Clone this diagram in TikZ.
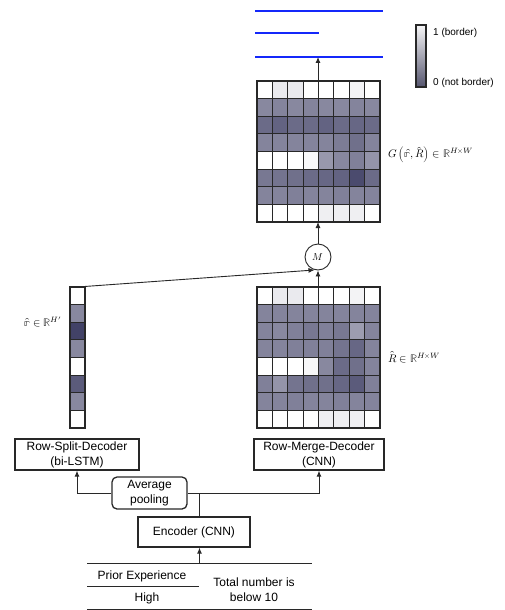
\documentclass[tikz,border=0pt]{standalone}
\usepackage{fontspec}
\usepackage{unicode-math}
\setmainfont{Liberation Sans}
\usetikzlibrary{arrows.meta}

\definecolor{cellbase}{RGB}{50,50,90}
\definecolor{linec}{RGB}{40,40,40}
\definecolor{barbot}{RGB}{85,85,110}
\definecolor{outblue}{RGB}{20,40,250}

\begin{document}
\begin{tikzpicture}[x=1pt, y=-1pt, >={Latex[length=6pt,width=5pt]},
    box/.style={draw=linec, line width=1.3pt, fill=white, inner sep=0pt, align=center, font=\fontsize{12}{15}\selectfont},
    cell/.style={draw=linec, line width=1.1pt},
    conn/.style={linec, line width=0.9pt},
    mathlbl/.style={inner sep=0pt, font=\fontsize{11}{13}\selectfont},
    barlbl/.style={inner sep=0pt, anchor=west, font=\fontsize{10}{12}\selectfont},
    tabtext/.style={inner sep=0pt, align=center, font=\fontsize{12}{15}\selectfont}]

    % Page frame
    \useasboundingbox (0,0) rectangle (504,610);

    % Output rows (blue)
    \draw[outblue, line width=1.5pt] (255,11) -- (383,11);
    \draw[outblue, line width=1.5pt] (255,33) -- (319,33);
    \draw[outblue, line width=1.5pt] (255,57) -- (383,57);
    \coordinate (out) at (318,57);

    % Colour bar
    \shade[top color=white!95!barbot, bottom color=barbot] (416,25) rectangle (426,87);
    \draw[linec, line width=1.2pt] (416,25) rectangle (426,87);
    \node[barlbl] (hi) at (433,33) {1 (border)};
    \node[barlbl] (lo) at (433,83) {0 (not border)};

    % G map (top grid)
    \foreach \rw/\vals in {1/{0,10,10,0,0,0,6,0}, 2/{58,60,58,60,58,58,60,58},
        3/{72,76,72,72,76,72,74,72}, 4/{60,60,60,60,60,64,70,60},
        5/{0,0,0,3,50,58,62,52}, 6/{66,68,70,72,74,76,88,72},
        7/{60,60,62,60,60,62,60,60}, 8/{0,0,0,0,8,8,8,0}} {
        \foreach \v [count=\cl] in \vals {
            \filldraw[cell, fill=cellbase!\v] (257+15.375*\cl-15.375, 81+17.625*\rw-17.625) rectangle ++(15.375,17.625);
        }
    }
    \coordinate (Gtop) at (318,81);
    \coordinate (Gbot) at (318,222);
    \node[mathlbl, anchor=west] (Glbl) at (388,155) {$G\left(\hat{\symbb{r}},\hat{R}\right)\in\symbb{R}^{H\times W}$};

    % R map (lower grid)
    \foreach \rw/\vals in {1/{0,10,10,0,0,0,6,0}, 2/{60,60,60,60,60,60,60,60},
        3/{60,58,62,66,62,66,48,60}, 4/{60,60,62,62,62,68,74,60},
        5/{0,0,0,4,58,72,70,60}, 6/{62,52,68,70,70,74,80,62},
        7/{60,60,62,60,60,62,60,60}, 8/{0,0,0,0,8,8,8,0}} {
        \foreach \v [count=\cl] in \vals {
            \filldraw[cell, fill=cellbase!\v] (257+15.375*\cl-15.375, 287+17.625*\rw-17.625) rectangle ++(15.375,17.625);
        }
    }
    \coordinate (Rtop) at (318,287);
    \node[mathlbl, anchor=west] (Rlbl) at (388,357) {$\hat{R}\in\symbb{R}^{H\times W}$};

    % r vector
    \foreach \v [count=\rw] in {0,58,92,58,0,80,58,0} {
        \filldraw[cell, fill=cellbase!\v] (70, 287+17.625*\rw-17.625) rectangle ++(15,17.625);
    }
    \coordinate (Vtop) at (77.5,287);
    \node[mathlbl, anchor=east] (rlbl) at (62,322) {$\hat{\symbb{r}}\in\symbb{R}^{H'}$};

    % Merge
    \node[circle, draw=linec, line width=0.9pt, fill=white, minimum size=26pt, inner sep=0pt, font=\fontsize{10}{12}\selectfont] (M) at (318,257) {$M$};

    % Decoders, pooling, encoder
    \node[box, minimum width=124pt, minimum height=31pt] (Split) at (77,454.5) {Row-Split-Decoder\\(bi-LSTM)};
    \node[box, minimum width=130pt, minimum height=31pt] (Merge) at (319,454.5) {Row-Merge-Decoder\\(CNN)};
    \node[box, rounded corners=5pt, minimum width=75pt, minimum height=32pt] (Pool) at (149.5,493) {Average\\pooling};
    \node[box, minimum width=112pt, minimum height=30pt] (Enc) at (194,532) {Encoder (CNN)};

    % Input table
    \draw[conn] (87,563) -- (312,563);
    \draw[conn] (87,586) -- (199,586);
    \draw[conn] (87,609) -- (312,609);
    \coordinate (tab) at (199.5,563);
    \node[tabtext] (Prior) at (142,576) {Prior Experience};
    \node[tabtext] (High) at (147,598) {High};
    \node[tabtext] (Total) at (254,590) {Total number is\\below 10};

    % Connections
    \draw[conn,->] (tab) -- (Enc.south -| tab);
    \coordinate (junc) at (199,493);
    \draw[conn] (Enc.north -| junc) -- (junc);
    \draw[conn] (junc) -- (Pool.east);
    \draw[conn,->] (Pool.west) -| (Split.south);
    \draw[conn,->] (junc) -| (Merge.south);
    \draw[conn,->] (Vtop) -- (M.255);
    \draw[conn,->] (Rtop) -- (M.south);
    \draw[conn,->] (M.north) -- (Gbot);
    \draw[conn,->] (Gtop) -- (out);

\end{tikzpicture}
\end{document}
